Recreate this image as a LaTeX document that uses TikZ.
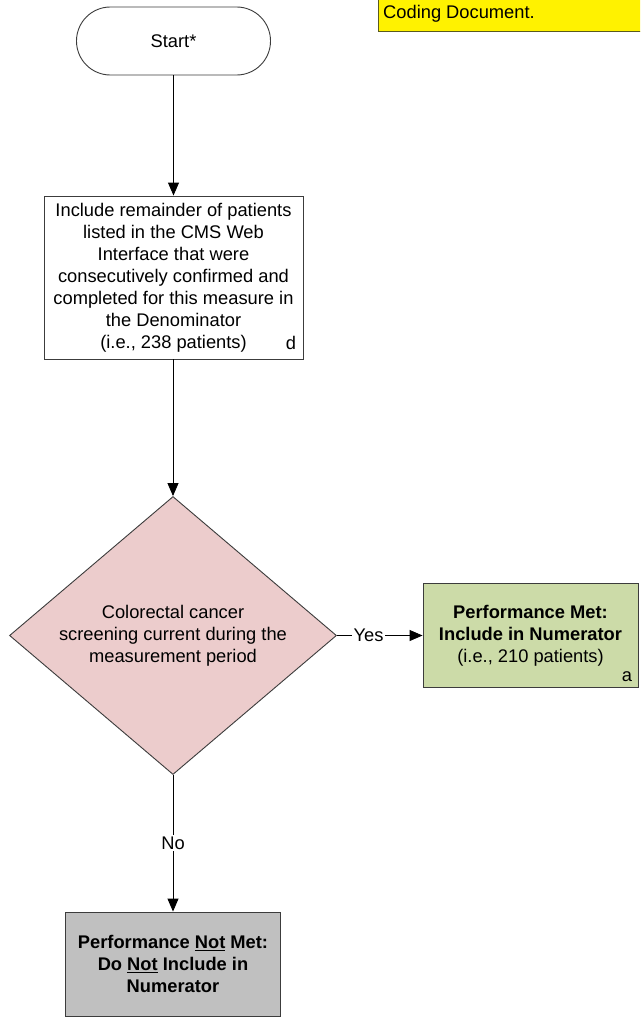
\documentclass[tikz,border=0pt]{standalone}
\usepackage{fontspec}
\setmainfont{Liberation Sans}
\usetikzlibrary{arrows.meta,shapes.geometric}
\definecolor{pinkfill}{RGB}{236,204,204}
\definecolor{greenfill}{RGB}{204,219,168}
\definecolor{greyfill}{RGB}{192,192,192}
\definecolor{edgecol}{RGB}{60,60,60}
\definecolor{noteedge}{RGB}{90,90,30}
\begin{document}
\begin{tikzpicture}[x=1pt,y=1pt,
  every node/.style={font=\fontsize{18.3}{22}\selectfont, inner sep=0pt},
  box/.style={draw=edgecol, line width=0.9pt, rectangle, align=center},
  conn/.style={draw=black, line width=0.9pt, -{Triangle[length=13pt,width=11pt]}},
  lbl/.style={fill=white, inner sep=1.5pt}]
\path[use as bounding box, clip] (0,0) rectangle (640,-1017);
\fill[white] (0,0) rectangle (640,-1017);
% note
\node[draw=noteedge, line width=0.9pt, fill=yellow, anchor=south west,
      minimum width=300pt, minimum height=60pt] (note) at (378,-32) {};
\node[anchor=west] (notetext) at (383,-14) {Coding Document.};
% start
\node[box, rounded corners=33.9pt, minimum width=194pt, minimum height=68pt]
  (start) at (173.5,-41) {Start*};
% include box
\node[box, minimum width=259pt, minimum height=163pt] (incl) at (173.5,-277.5)
  {Include remainder of patients\\listed in the CMS Web\\Interface that were\\consecutively confirmed and\\completed for this measure in\\the Denominator\\(i.e., 238 patients)};
\node (dmark) at (291,-343) {d};
% decision
\node[draw=edgecol, line width=0.9pt, diamond, aspect=1.176, fill=pinkfill,
      minimum width=327pt, minimum height=278pt, align=center]
  (dec) at (173,-635.5) {Colorectal cancer\\screening current during the\\measurement period};
% met
\node[box, fill=greenfill, minimum width=215pt, minimum height=104pt] (met) at (530.5,-635.5)
  {\textbf{Performance Met:}\\\textbf{Include in Numerator}\\(i.e., 210 patients)};
\node (amark) at (627,-677) {a};
% not met
\node[box, fill=greyfill, minimum width=215pt, minimum height=104pt] (notmet) at (173,-964)
  {\textbf{Performance \underline{Not} Met:}\\\textbf{Do \underline{Not} Include in}\\\textbf{Numerator}};
% connectors
\draw[conn] (start) -- (incl);
\draw[conn] (incl.south -| dec.north) -- (dec.north);
\draw[conn] (dec.east) -- node[lbl, pos=0.37] {Yes} (met.west);
\draw[conn] (dec.south) -- node[lbl, pos=0.5] {No} (notmet.north);
\end{tikzpicture}
\end{document}
